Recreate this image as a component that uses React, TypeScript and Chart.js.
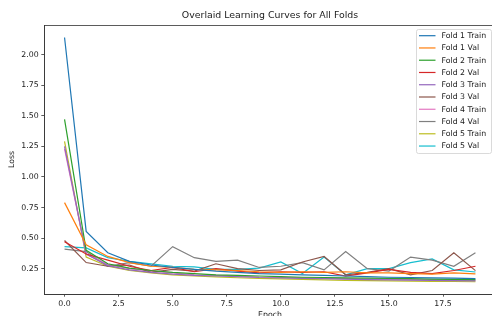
import React, { useEffect, useRef } from "react";
import { Chart, registerables } from "chart.js";

Chart.register(...registerables);

const EPOCHS = [0, 1, 2, 3, 4, 5, 6, 7, 8, 9, 10, 11, 12, 13, 14, 15, 16, 17, 18, 19];

const fold1Train = [2.14, 0.555, 0.38, 0.31, 0.28, 0.26, 0.245, 0.23, 0.22, 0.21, 0.205, 0.2, 0.195, 0.19, 0.185, 0.18, 0.178, 0.175, 0.172, 0.168];
const fold1Val = [0.79, 0.445, 0.35, 0.3, 0.27, 0.26, 0.245, 0.24, 0.235, 0.225, 0.22, 0.225, 0.22, 0.225, 0.215, 0.215, 0.21, 0.205, 0.215, 0.207];
const fold2Train = [1.47, 0.4, 0.29, 0.255, 0.235, 0.22, 0.21, 0.2, 0.195, 0.19, 0.185, 0.18, 0.178, 0.175, 0.172, 0.17, 0.168, 0.165, 0.162, 0.16];
const fold2Val = [0.47, 0.37, 0.32, 0.27, 0.235, 0.26, 0.225, 0.25, 0.23, 0.215, 0.225, 0.22, 0.225, 0.19, 0.215, 0.245, 0.22, 0.21, 0.235, 0.27];
const fold3Train = [1.25, 0.37, 0.275, 0.24, 0.22, 0.205, 0.195, 0.19, 0.185, 0.178, 0.175, 0.17, 0.168, 0.165, 0.16, 0.158, 0.156, 0.154, 0.152, 0.15];
const fold3Val = [0.48, 0.3, 0.27, 0.28, 0.22, 0.245, 0.23, 0.29, 0.25, 0.235, 0.24, 0.305, 0.35, 0.2, 0.22, 0.25, 0.2, 0.235, 0.38, 0.234];
const fold4Train = [1.23, 0.37, 0.285, 0.25, 0.23, 0.215, 0.2, 0.195, 0.19, 0.182, 0.178, 0.175, 0.17, 0.168, 0.165, 0.162, 0.16, 0.158, 0.157, 0.155];
const fold4Val = [0.41, 0.39, 0.27, 0.3, 0.27, 0.43, 0.34, 0.31, 0.32, 0.26, 0.27, 0.3, 0.24, 0.39, 0.25, 0.23, 0.345, 0.32, 0.27, 0.38];
const fold5Train = [1.29, 0.345, 0.27, 0.235, 0.215, 0.2, 0.19, 0.183, 0.176, 0.17, 0.166, 0.162, 0.158, 0.155, 0.152, 0.15, 0.148, 0.146, 0.145, 0.143];
const fold5Val = [0.43, 0.42, 0.34, 0.31, 0.29, 0.27, 0.265, 0.245, 0.245, 0.255, 0.305, 0.21, 0.345, 0.2, 0.25, 0.25, 0.3, 0.33, 0.24, 0.223];

const SERIES_LABELS = [
  "Fold 1 Train", "Fold 1 Val", "Fold 2 Train", "Fold 2 Val", "Fold 3 Train",
  "Fold 3 Val", "Fold 4 Train", "Fold 4 Val", "Fold 5 Train", "Fold 5 Val",
];
const SERIES_VALUES = [
  fold1Train, fold1Val, fold2Train, fold2Val, fold3Train,
  fold3Val, fold4Train, fold4Val, fold5Train, fold5Val,
];
const COLORS = [
  "#1f77b4", "#ff7f0e", "#2ca02c", "#d62728", "#9467bd",
  "#8c564b", "#e377c2", "#7f7f7f", "#bcbd22", "#17becf",
];

const X_TICKS = [0, 2.5, 5, 7.5, 10, 12.5, 15, 17.5];
const Y_TICKS = [0.25, 0.5, 0.75, 1.0, 1.25, 1.5, 1.75, 2.0];

const TITLE = "Overlaid Learning Curves for All Folds";
const X_LABEL = "Epoch";
const Y_LABEL = "Loss";

const FONT = "'DejaVu Sans', sans-serif";
const LINE_W = 1.2;
const TEXT = "#1a1a1a";
const SMALL = 7.8;

const titlePlugin = {
  id: "mplTitle",
  afterDraw(chart: any) {
    const { ctx, chartArea } = chart;
    ctx.save();
    ctx.font = `9.4px ${FONT}`;
    ctx.fillStyle = TEXT;
    ctx.textAlign = "center";
    ctx.textBaseline = "middle";
    ctx.fillText(TITLE, (chartArea.left + chartArea.right) / 2, 16);
    ctx.restore();
  },
};

const framePlugin = {
  id: "frame",
  afterDatasetsDraw(chart: any) {
    const { ctx, chartArea } = chart;
    ctx.save();
    ctx.strokeStyle = "#333";
    ctx.lineWidth = 0.8;
    ctx.strokeRect(
      Math.round(chartArea.left) + 0.5,
      Math.round(chartArea.top) + 0.5,
      chartArea.right - chartArea.left,
      chartArea.bottom - chartArea.top
    );
    ctx.restore();
  },
};

const legendPlugin = {
  id: "mplLegend",
  afterDraw(chart: any) {
    const { ctx } = chart;
    const left = 416.5;
    const top = 29.5;
    const w = 75;
    const h = 124;
    const r = 2;
    ctx.save();
    ctx.beginPath();
    ctx.moveTo(left + r, top);
    ctx.lineTo(left + w - r, top);
    ctx.quadraticCurveTo(left + w, top, left + w, top + r);
    ctx.lineTo(left + w, top + h - r);
    ctx.quadraticCurveTo(left + w, top + h, left + w - r, top + h);
    ctx.lineTo(left + r, top + h);
    ctx.quadraticCurveTo(left, top + h, left, top + h - r);
    ctx.lineTo(left, top + r);
    ctx.quadraticCurveTo(left, top, left + r, top);
    ctx.closePath();
    ctx.fillStyle = "rgba(255,255,255,0.8)";
    ctx.fill();
    ctx.strokeStyle = "#d0d0d0";
    ctx.lineWidth = 0.8;
    ctx.stroke();
    ctx.font = `${SMALL}px ${FONT}`;
    ctx.textBaseline = "middle";
    ctx.textAlign = "left";
    chart.data.datasets.forEach((ds: any, i: number) => {
      const y = 35.7 + i * 12.26;
      ctx.beginPath();
      ctx.strokeStyle = ds.borderColor;
      ctx.lineWidth = LINE_W;
      ctx.moveTo(419, y);
      ctx.lineTo(435.5, y);
      ctx.stroke();
      ctx.fillStyle = TEXT;
      ctx.fillText(ds.label, 441.5, y + 0.3);
    });
    ctx.restore();
  },
};

export default function App() {
  const ref = useRef<HTMLCanvasElement | null>(null);

  useEffect(() => {
    if (!ref.current) return;
    const datasets = SERIES_VALUES.map((vals, i) => ({
      label: SERIES_LABELS[i],
      data: vals.map((v, j) => ({ x: EPOCHS[j], y: v })),
      borderColor: COLORS[i],
      backgroundColor: COLORS[i],
      borderWidth: LINE_W,
      pointRadius: 0,
      tension: 0,
      fill: false,
    }));
    const chart = new Chart(ref.current, {
      type: "line",
      data: { datasets },
      options: {
        animation: false,
        responsive: false,
        devicePixelRatio: 1,
        layout: { padding: { left: 0, top: 25, right: 44, bottom: 0 } },
        plugins: {
          legend: { display: false },
          tooltip: { enabled: false },
          title: { display: false },
        },
        scales: {
          x: {
            type: "linear",
            min: -0.95,
            max: 19.95,
            afterBuildTicks: (s: any) => {
              s.ticks = X_TICKS.map((v) => ({ value: v }));
            },
            afterFit: (s: any) => {
              s.height = 30;
            },
            ticks: {
              autoSkip: false,
              maxRotation: 0,
              padding: 2.6,
              color: TEXT,
              font: { family: FONT, size: SMALL, lineHeight: 1.2 },
              callback: (v: any) => Number(v).toFixed(1),
            },
            grid: {
              display: true,
              drawOnChartArea: false,
              drawTicks: true,
              tickLength: 2.7,
              color: "#333",
              lineWidth: 0.8,
            },
            border: { display: true, color: "#333", width: 0.8 },
            title: {
              display: true,
              text: X_LABEL,
              color: TEXT,
              font: { family: FONT, size: SMALL, lineHeight: 1.2 },
              padding: { top: 0, bottom: 4.3 },
            },
          },
          y: {
            type: "linear",
            min: 0.043,
            max: 2.242,
            afterBuildTicks: (s: any) => {
              s.ticks = Y_TICKS.map((v) => ({ value: v }));
            },
            afterFit: (s: any) => {
              s.width = 44;
            },
            ticks: {
              autoSkip: false,
              padding: 2.7,
              color: TEXT,
              font: { family: FONT, size: SMALL, lineHeight: 1.2 },
              callback: (v: any) => Number(v).toFixed(2),
            },
            grid: {
              display: true,
              drawOnChartArea: false,
              drawTicks: true,
              tickLength: 2.7,
              color: "#333",
              lineWidth: 0.8,
            },
            border: { display: true, color: "#333", width: 0.8 },
            title: {
              display: true,
              text: Y_LABEL,
              color: TEXT,
              font: { family: FONT, size: SMALL, lineHeight: 1.2 },
              padding: { top: 7.3, bottom: 0 },
            },
          },
        },
      },
      plugins: [framePlugin, titlePlugin, legendPlugin],
    });
    return () => chart.destroy();
  }, []);

  return (
    <div
      style={{
        position: "fixed",
        left: 0,
        top: 0,
        width: 492,
        height: 316,
        overflow: "hidden",
        background: "#fff",
      }}
    >
      <canvas ref={ref} width={540} height={324} style={{ width: 540, height: 324, display: "block" }} />
    </div>
  );
}
